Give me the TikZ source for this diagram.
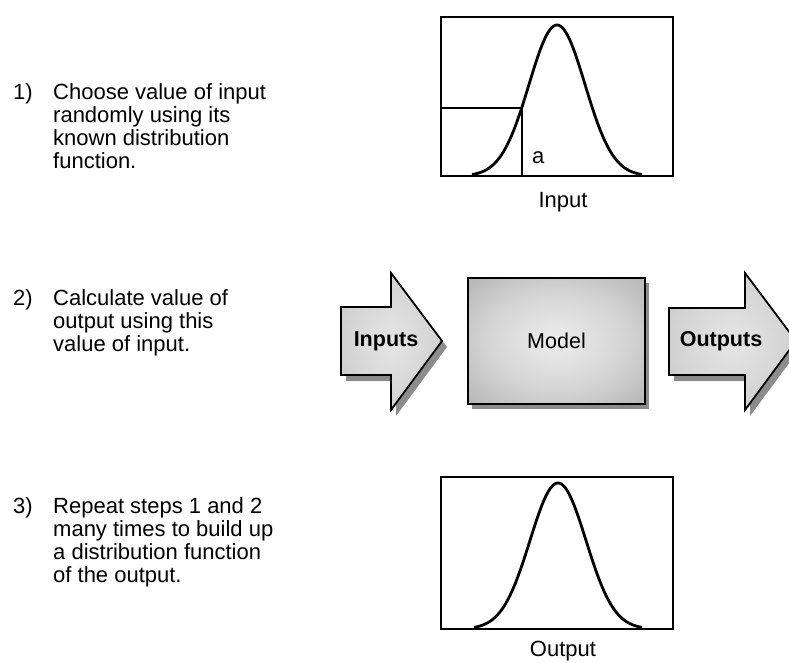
\documentclass[tikz,border=0pt]{standalone}
\usepackage{fontspec}
\setmainfont{Liberation Sans}
\usetikzlibrary{shadows}

% soft grey radial fills for the model box and the two big arrows
\pgfdeclareradialshading{boxshade}{\pgfpoint{0bp}{0bp}}{%
  color(0bp)=(black!7); color(20bp)=(black!17); color(50bp)=(black!40); color(72bp)=(black!50)}
\pgfdeclareradialshading{arrowshade}{\pgfpoint{0bp}{0bp}}{%
  color(0bp)=(black!10); color(25bp)=(black!18); color(50bp)=(black!35); color(72bp)=(black!45)}

\tikzset{
  txt/.style={inner sep=0pt, font=\fontsize{22}{23}\selectfont},
  steptext/.style={txt, align=left, anchor=north west},
  stepnum/.style={txt, anchor=north west},
  plotbox/.style={draw, line width=1.8pt, minimum width=232pt, inner sep=0pt},
  bell/.style={line width=2.8pt, line join=round},
  guide/.style={line width=1.2pt},
  modelbox/.style={draw, line width=1.8pt, minimum width=177pt, minimum height=126pt,
    inner sep=0pt, shading=boxshade, font=\fontsize{21.5}{24}\selectfont,
    drop shadow={shadow xshift=4pt, shadow yshift=-5pt, fill=black!45, opacity=1}},
  bigarrow/.style={draw, line width=1.8pt, line join=miter, shading=arrowshade},
  arrowshadow/.style={fill=black!45},
  arrowlabel/.style={inner sep=0pt, font=\bfseries\fontsize{21.5}{24}\selectfont},
}

\begin{document}
\begin{tikzpicture}[x=1pt, y=-1pt]
  \useasboundingbox (0,0) rectangle (789,662);
  \clip (0,0) rectangle (789,662);

  % ---- step descriptions ----
  \node[stepnum]  (n1) at (13,83) {1)};
  \node[steptext] (t1) at (53,83) {Choose value of input\\randomly using its\\known distribution\\function.};
  \node[stepnum]  (n2) at (13,289) {2)};
  \node[steptext] (t2) at (53,289) {Calculate value of\\output using this\\value of input.};
  \node[stepnum]  (n3) at (13,497) {3)};
  \node[steptext] (t3) at (53,497) {Repeat steps 1 and 2\\many times to build up\\a distribution function\\of the output.};

  % ---- input distribution ----
  \node[plotbox, minimum height=159pt] (inbox) at (557,96.5) {};
  \draw[bell] plot[domain=472:642, samples=120, smooth]
    (\x, {176-151*exp(-(\x-557)*(\x-557)/1568)});
  \coordinate (hit) at (522,108);
  \draw[guide] (inbox.west |- hit) -- (hit) -- (hit |- inbox.south);
  \node[txt, anchor=base west] (a) at (532,163) {a};
  \node[txt, anchor=base] (inlabel) at (563,207) {Input};

  % ---- model with its input and output arrows ----
  \fill[arrowshadow, shift={(5,6)}]
    (341,307) -- (391,307) -- (391,273) -- (442,341) -- (391,410) -- (391,375) -- (341,375) -- cycle;
  \path[bigarrow]
    (341,307) -- (391,307) -- (391,273) -- (442,341) -- (391,410) -- (391,375) -- (341,375) -- cycle;
  \node[arrowlabel] (inputs) at (386,341) {Inputs};

  \node[modelbox] (model) at (556.5,341) {Model};

  \fill[arrowshadow, shift={(5,6)}]
    (669,308) -- (745,308) -- (745,273) -- (796,341) -- (745,410) -- (745,375) -- (669,375) -- cycle;
  \path[bigarrow]
    (669,308) -- (745,308) -- (745,273) -- (796,341) -- (745,410) -- (745,375) -- (669,375) -- cycle;
  \node[arrowlabel] (outputs) at (721,341) {Outputs};

  % ---- output distribution ----
  \node[plotbox, minimum height=152pt] (outbox) at (557,553) {};
  \draw[bell] plot[domain=474:642, samples=120, smooth]
    (\x, {629-146*exp(-(\x-558)*(\x-558)/1568)});
  \node[txt, anchor=base] (outlabel) at (563,656.5) {Output};
\end{tikzpicture}
\end{document}
